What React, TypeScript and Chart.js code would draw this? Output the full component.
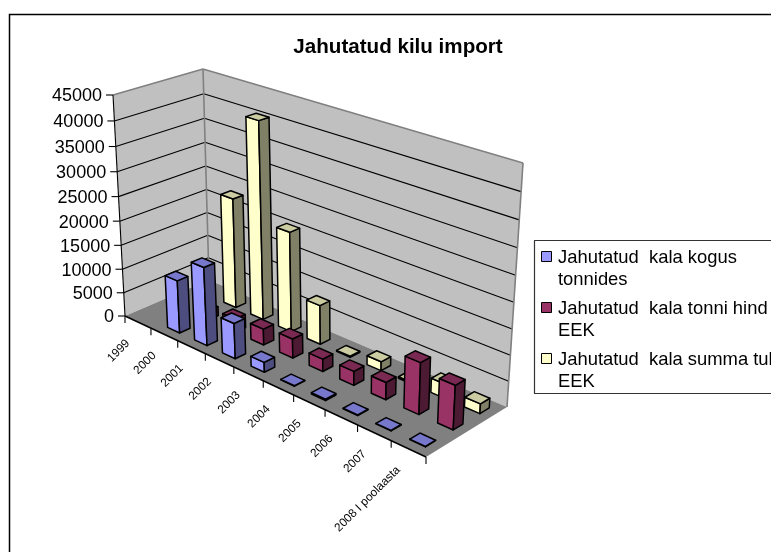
import React, { useEffect, useRef } from "react";
import { Chart, registerables } from "chart.js";

Chart.register(...registerables);

const categories = ["1999", "2000", "2001", "2002", "2003", "2004", "2005", "2006", "2007", "2008 I poolaasta"];
const kogus = [null, 10900, 16000, 7200, 2000, 100, 300, 100, 100, 100];
const hind = [null, 1900, 2800, 3300, 3900, 2500, 2800, 3400, 10000, 8500];
const summa = [null, 23000, 40500, 20500, 8000, 200, 1800, 300, 2800, 1900];
const seriesNames = ["Jahutatud  kala kogus tonnides", "Jahutatud  kala tonni hind EEK", "Jahutatud  kala summa tuhat EEK"];
const legendLines = [["Jahutatud  kala kogus", "tonnides"], ["Jahutatud  kala tonni hind", "EEK"], ["Jahutatud  kala summa tuhat", "EEK"]];
const frontColors = ["#9999FF", "#993366", "#FFFFCC"];
const sideColors = ["#4D4D80", "#4D1A33", "#808066"];
const topColors = ["#7777CC", "#7A2952", "#CCCCA3"];

type Pt = [number, number];
function homography(p0: Pt, p1: Pt, p2: Pt, p3: Pt) {
  const dx1 = p1[0] - p2[0], dx2 = p3[0] - p2[0], sx = p0[0] - p1[0] + p2[0] - p3[0];
  const dy1 = p1[1] - p2[1], dy2 = p3[1] - p2[1], sy = p0[1] - p1[1] + p2[1] - p3[1];
  const den = dx1 * dy2 - dx2 * dy1;
  const g = (sx * dy2 - dx2 * sy) / den, h = (dx1 * sy - sx * dy1) / den;
  const a = p1[0] - p0[0] + g * p1[0], b = p3[0] - p0[0] + h * p3[0], c = p0[0];
  const d = p1[1] - p0[1] + g * p1[1], e = p3[1] - p0[1] + h * p3[1], f = p0[1];
  return (u: number, v: number): Pt => {
    const q = g * u + h * v + 1;
    return [(a * u + b * v + c) / q, (d * u + e * v + f) / q];
  };
}
// view of the 3D box: u along categories, v along series depth, w along values
const floorAt = homography([125, 316], [426, 457], [507, 407], [209, 280]);
const roofAt = homography([113, 95], [436, 203], [523, 163], [203, 69]);
const K = 0.94;
function project(u: number, v: number, w: number): Pt {
  const a = floorAt(u, v), b = roofAt(u, v);
  const q = 1 - w + w * K;
  return [(a[0] * (1 - w) + b[0] * w * K) / q, (a[1] * (1 - w) + b[1] * w * K) / q];
}

function poly(ctx: CanvasRenderingContext2D, pts: Pt[], fill: string | null, stroke: string | null, lw = 1) {
  ctx.beginPath();
  pts.forEach((p, i) => (i ? ctx.lineTo(p[0], p[1]) : ctx.moveTo(p[0], p[1])));
  ctx.closePath();
  if (fill) { ctx.fillStyle = fill; ctx.fill(); }
  if (stroke) { ctx.strokeStyle = stroke; ctx.lineWidth = lw; ctx.lineJoin = "round"; ctx.stroke(); }
}
function line(ctx: CanvasRenderingContext2D, a: Pt, b: Pt, color: string, lw = 1) {
  ctx.beginPath(); ctx.moveTo(a[0], a[1]); ctx.lineTo(b[0], b[1]);
  ctx.strokeStyle = color; ctx.lineWidth = lw; ctx.stroke();
}

const threeD = {
  id: "threeD",
  afterLayout(chart: any) {
    // centre the title on the whole chart frame rather than on the plot box
    chart.titleBlock.left = 0;
    chart.titleBlock.right = chart.width + 4;
  },
  beforeDatasetsDraw(chart: any) {
    const ctx: CanvasRenderingContext2D = chart.ctx;
    const { x, y } = chart.scales;
    const area = chart.chartArea;
    const uOf = (px: number) => (px - area.left) / (area.right - area.left);
    const wOf = (val: number) => (area.bottom - y.getPixelForValue(val)) / (area.bottom - area.top);
    ctx.save();
    // frame
    ctx.strokeStyle = "#000"; ctx.lineWidth = 1.5;
    ctx.strokeRect(9.5, 14.5, 900, 800);
    // walls and floor
    poly(ctx, [project(0, 0, 0), project(0, 0, 1), project(0, 1, 1), project(0, 1, 0)], "#C0C0C0", null);
    poly(ctx, [project(0, 1, 0), project(0, 1, 1), project(1, 1, 1), project(1, 1, 0)], "#C0C0C0", null);
    poly(ctx, [project(0, 0, 0), project(1, 0, 0), project(1, 1, 0), project(0, 1, 0)], "#808080", null);
    // gridlines
    y.ticks.forEach((t: any) => {
      const w = wOf(t.value);
      if (t.value > 0 && t.value < y.max) {
        line(ctx, project(0, 0, w), project(0, 1, w), "#000", 1.1);
        line(ctx, project(0, 1, w), project(1, 1, w), "#000", 1.1);
      }
    });
    line(ctx, project(0, 0, 1), project(0, 1, 1), "#808080", 1.6);
    line(ctx, project(0, 1, 1), project(1, 1, 1), "#808080", 1.6);
    line(ctx, project(0, 1, 0), project(0, 1, 1), "#808080", 1.6);
    line(ctx, project(1, 1, 0), project(1, 1, 1), "#808080", 1.6);
    // value axis
    line(ctx, project(0, 0, 0), project(0, 0, 1), "#000", 1.1);
    ctx.fillStyle = "#000";
    ctx.font = "18px 'Liberation Sans'";
    ctx.textAlign = "right"; ctx.textBaseline = "middle";
    y.ticks.forEach((t: any) => {
      const p = project(0, 0, wOf(t.value));
      line(ctx, [p[0] - 7, p[1]], p, "#000", 1.1);
      ctx.fillStyle = "#000";
      ctx.fillText(String(t.value), p[0] - 11, p[1] + 1.5);
    });
    // category axis
    line(ctx, project(0, 0, 0), project(1, 0, 0), "#000", 1.4);
    const n = categories.length;
    for (let i = 0; i <= n; i++) {
      const p = project(i / n, 0, 0);
      line(ctx, p, [p[0], p[1] + 7], "#000", 1.1);
    }
    ctx.font = "11.8px 'Liberation Sans'";
    categories.forEach((c, i) => {
      const p = project(uOf(x.getPixelForValue(i)), 0, 0);
      ctx.save();
      ctx.translate(p[0] - 10, p[1] + 19.5);
      ctx.rotate(-Math.PI / 4);
      ctx.textAlign = "right"; ctx.textBaseline = "middle";
      ctx.fillStyle = "#000";
      ctx.fillText(c, 0, 0);
      ctx.restore();
    });
    // bars, back row first
    const ds = chart.data.datasets;
    const halfU = 0.225 / n, halfV = 0.18 / ds.length;
    for (let s = ds.length - 1; s >= 0; s--) {
      const vc = (s + 0.5) / ds.length;
      ds[s].data.forEach((val: number | null, i: number) => {
        if (val == null) return;
        const uc = uOf(x.getPixelForValue(i));
        const w = wOf(val);
        const u0 = uc - halfU, u1 = uc + halfU, v0 = vc - halfV, v1 = vc + halfV;
        poly(ctx, [project(u0, v0, 0), project(u1, v0, 0), project(u1, v0, w), project(u0, v0, w)], frontColors[s], "#000", 1.5);
        poly(ctx, [project(u1, v0, 0), project(u1, v1, 0), project(u1, v1, w), project(u1, v0, w)], sideColors[s], "#000", 1.5);
        poly(ctx, [project(u0, v0, w), project(u1, v0, w), project(u1, v1, w), project(u0, v1, w)], topColors[s], "#000", 1.5);
      });
    }
    // legend
    ctx.fillStyle = "#fff";
    ctx.fillRect(534.5, 240.5, 400, 153);
    ctx.strokeStyle = "#333"; ctx.lineWidth = 1.2;
    ctx.strokeRect(534.5, 240.5, 400, 153);
    ctx.font = "18.4px 'Liberation Sans'";
    ctx.textAlign = "left"; ctx.textBaseline = "middle";
    legendLines.forEach((lines, s) => {
      const top = 257 + s * 51;
      ctx.fillStyle = frontColors[s];
      ctx.fillRect(541.5, top - 5.5, 10, 10);
      ctx.strokeStyle = "#000"; ctx.lineWidth = 1;
      ctx.strokeRect(541.5, top - 5.5, 10, 10);
      ctx.fillStyle = "#000";
      lines.forEach((l, j) => ctx.fillText(l, 558, top + 1 + j * 22));
    });
    ctx.restore();
  },
};

export default function App() {
  const ref = useRef<HTMLCanvasElement>(null);
  useEffect(() => {
    const chart = new Chart(ref.current!, {
      type: "bar",
      data: {
        labels: categories,
        datasets: [kogus, hind, summa].map((data, i) => ({
          label: seriesNames[i],
          data,
          backgroundColor: "rgba(0,0,0,0)",
          borderWidth: 0,
        })),
      },
      options: {
        responsive: false,
        animation: false,
        devicePixelRatio: 1,
        layout: { padding: { left: 125, right: 366, bottom: 284, top: 0 } },
        scales: {
          x: { display: false },
          y: { display: false, min: 0, max: 45000, ticks: { stepSize: 5000 } },
        },
        plugins: {
          legend: { display: false },
          tooltip: { enabled: false },
          title: {
            display: true,
            text: "Jahutatud kilu import",
            color: "#000",
            font: { family: "'Liberation Sans'", size: 20.6, weight: "bold" },
            padding: { top: 35, bottom: 35.3 },
          },
        },
      },
      plugins: [threeD],
    } as any);
    return () => chart.destroy();
  }, []);
  return (
    <div style={{ position: "fixed", left: 0, top: 0, width: 771, height: 552, overflow: "hidden", background: "#fff" }}>
      <canvas ref={ref} width={792} height={600} style={{ display: "block" }} />
    </div>
  );
}
